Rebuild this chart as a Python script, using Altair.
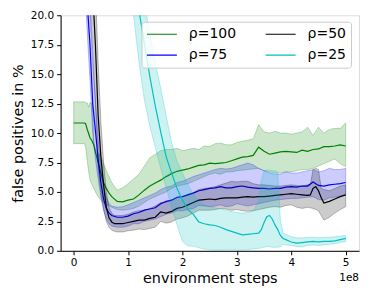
import altair as alt
import pandas as pd

# shared sampling grid for the later part of training (x in units of 1e8 steps)
tail = [round(v / 10, 2) for v in range(8, 51)]

# rho = 100 (green)
x100 = [0.0, 0.1, 0.2, 0.22, 0.25, 0.28, 0.3, 0.33, 0.35, 0.37, 0.4, 0.45, 0.5, 0.55, 0.6, 0.65, 0.7] + tail
m100 = [10.85, 10.85, 10.85, 10.8, 10.3, 9.9, 9.6, 9.4, 9.2, 9.0, 8.4, 7.5, 6.6, 5.8, 5.3, 4.9, 4.6,
        4.2, 4.15, 4.3, 4.4, 4.75, 5.15, 5.5, 5.75, 6.0, 6.3, 6.55, 6.75, 6.85, 6.95, 7.1, 7.25, 7.3, 7.45,
        7.4, 7.45, 7.5, 7.65, 7.8, 7.95, 8.0, 8.1, 8.8, 8.45, 8.2, 8.3, 8.4, 8.45, 8.4, 8.35, 8.55, 8.45,
        8.6, 8.65, 8.85, 8.85, 8.9, 9.0, 8.9]
lo100 = [9.1, 9.1, 9.1, 8.8, 7.6, 6.6, 6.0, 5.7, 5.5, 5.3, 5.0, 4.6, 4.3, 4.05, 3.9, 3.8, 3.7,
         3.5, 3.45, 3.5, 3.6, 3.8, 4.1, 4.4, 4.6, 4.8, 5.0, 5.3, 5.5, 5.6, 5.7, 5.9, 6.1, 6.3, 6.5,
         6.6, 6.5, 6.7, 6.7, 6.8, 6.85, 6.9, 6.95, 7.0, 6.8, 6.7, 6.6, 6.6, 6.7, 6.7, 6.8, 6.9, 6.9,
         7.0, 7.2, 7.4, 7.6, 7.8, 7.4, 7.15]
hi100 = [12.65, 12.65, 12.65, 12.6, 12.55, 12.2, 12.6, 12.5, 12.4, 9.0, 8.6, 8.3, 8.0, 7.4, 6.8, 6.3, 5.8,
         5.15, 5.35, 5.7, 6.1, 6.5, 7.2, 7.9, 8.2, 8.5, 8.6, 8.6, 8.7, 8.5, 8.6, 8.7, 8.6, 8.9, 8.85,
         9.1, 9.15, 9.0, 9.0, 9.2, 9.3, 9.4, 9.5, 10.7, 10.1, 10.0, 10.15, 10.0, 10.0, 9.9, 10.0, 10.1, 10.5,
         9.8, 10.5, 10.0, 10.3, 10.4, 10.4, 10.85]

# rho = 75 (blue)
x75 = [0.0, 0.1, 0.2, 0.25, 0.3, 0.35, 0.4, 0.45, 0.5, 0.55, 0.6, 0.65, 0.7] + tail
m75 = [45, 38, 26, 21, 17.5, 12.5, 10.2, 7.8, 5.8, 4.4, 3.6, 3.2, 3.0,
       2.85, 2.85, 2.95, 3.15, 3.25, 3.45, 3.55, 3.65, 4.0, 4.2, 4.3, 4.55, 4.6, 4.75, 4.9, 5.1, 5.2, 5.3,
       5.35, 5.45, 5.35, 5.35, 5.45, 5.5, 5.4, 5.35, 5.3, 5.3, 5.25, 5.3, 5.3, 5.4, 5.45, 5.4, 5.5, 5.5,
       5.85, 5.55, 5.5, 5.6, 5.65, 5.7, 5.8]
lo75 = [42, 35, 23, 18.5, 14.5, 10.0, 7.8, 6.1, 4.6, 3.4, 2.7, 2.3, 2.1,
        2.0, 2.0, 2.1, 2.3, 2.3, 2.5, 2.6, 2.7, 2.9, 3.1, 3.2, 3.4, 3.4, 3.5, 3.6, 3.85, 3.8, 3.75,
        3.8, 3.9, 3.75, 3.8, 4.0, 3.9, 3.8, 3.9, 4.0, 4.1, 4.2, 4.3, 4.35, 4.4, 4.45, 4.45, 4.5, 4.55,
        4.6, 4.35, 4.3, 4.5, 4.55, 4.65, 4.75]
hi75 = [48, 41, 29, 24, 20.5, 16, 12.8, 9.5, 7.0, 5.4, 4.5, 4.0, 3.8,
        3.7, 3.75, 3.9, 4.1, 4.3, 4.5, 4.7, 4.9, 5.2, 5.4, 5.5, 5.8, 5.9, 6.1, 6.3, 6.45, 6.6, 6.75,
        6.9, 7.0, 6.95, 7.0, 7.15, 7.3, 7.45, 7.3, 7.0, 6.8, 6.6, 6.5, 6.5, 6.7, 6.6, 6.6, 6.7, 6.8,
        6.9, 6.7, 6.8, 7.0, 6.9, 6.9, 7.0]

# rho = 50 (black)
x50 = ([0.0, 0.1, 0.2, 0.3, 0.35, 0.4, 0.45, 0.5, 0.55, 0.6, 0.65, 0.7, 0.75]
       + [t for t in tail if t <= 4.3] + [4.35, 4.4, 4.45, 4.5, 4.55, 4.6, 4.7, 4.8, 4.9, 5.0])
m50 = [50, 45, 36, 26, 22, 17.5, 11.5, 8.0, 5.6, 3.7, 2.8, 2.45, 2.3,
       2.3, 2.3, 2.4, 2.5, 2.6, 2.6, 2.75, 2.85, 3.3, 3.2, 3.35, 3.6, 3.7, 3.9, 4.1, 4.3, 4.35, 4.4,
       4.35, 4.45, 4.5, 4.5, 4.5, 4.55, 4.6, 4.55, 4.6, 4.6, 4.65, 4.7, 4.75, 4.8, 4.85, 4.8, 4.75, 4.7,
       4.75, 5.3, 5.45, 5.1, 4.5, 4.05, 4.2, 4.4, 4.6, 4.75]
lo50 = [45, 40, 31, 21, 17, 12.5, 7.0, 5.0, 3.6, 2.5, 2.0, 1.75, 1.65,
        1.6, 1.6, 1.7, 1.75, 1.85, 1.8, 1.9, 2.0, 2.5, 2.35, 2.45, 2.7, 2.8, 2.95, 3.2, 3.45, 3.45, 3.45,
        3.5, 3.6, 3.55, 3.45, 3.5, 3.4, 3.35, 3.4, 3.5, 3.6, 3.7, 3.75, 3.7, 3.85, 3.9, 3.7, 3.6, 3.7,
        3.65, 3.6, 3.5, 3.4, 3.0, 2.6, 2.85, 3.2, 3.5, 3.75]
hi50 = [55, 50, 41, 31, 27, 22.5, 16.0, 11.0, 7.6, 5.0, 3.7, 3.2, 3.0,
        3.0, 3.0, 3.1, 3.3, 3.4, 3.45, 3.6, 3.8, 4.1, 4.1, 4.3, 4.5, 4.6, 4.8, 4.95, 5.2, 5.3, 5.35,
        5.45, 5.6, 5.75, 5.9, 5.85, 5.9, 5.9, 5.7, 5.6, 5.6, 5.55, 5.5, 5.5, 5.55, 5.6, 5.55, 5.5, 5.6,
        5.6, 6.9, 7.0, 6.9, 5.3, 5.2, 5.1, 5.3, 5.5, 5.6]

# rho = 25 (cyan)
x25 = ([0.0, 0.5, 0.8] + [t for t in tail if 1.0 <= t <= 3.4]
       + [3.45, 3.5, 3.55, 3.6, 3.65, 3.7, 3.75, 3.8, 3.85, 3.9] + [t for t in tail if t >= 4.0])
m25 = [60, 45, 33, 26, 23, 20.4, 17.6, 14.8, 12.3, 10.1, 8.0, 6.6, 5.3, 4.3, 3.5, 3.1, 2.45, 2.3, 2.2,
       2.15, 2.0, 1.8, 1.65, 1.5, 1.35, 1.4, 1.45, 1.5, 1.8, 2.4, 2.9, 3.0, 2.7, 2.2, 1.8, 1.3, 1.05, 0.95,
       0.75, 0.65, 0.7, 0.75, 0.8, 0.75, 0.8, 0.8, 0.85, 0.95, 1.05]
lo25 = [55, 40, 29, 23.5, 20, 16, 12.8, 10.6, 8.8, 7.0, 5.4, 3.7, 2.2, 0.8, 0.4, 0.4, 0.25, 0.15, 0.1,
        0.05, 0.05, 0.1, 0.1, 0.05, 0.05, 0.1, 0.15, 0.2, 0.25, 0.3, 0.35, 0.35, 0.3, 0.3, 0.3, 0.35, 0.55, 0.5,
        0.45, 0.35, 0.35, 0.45, 0.5, 0.45, 0.5, 0.55, 0.6, 0.7, 0.8]
hi25 = [65, 50, 37, 30, 26, 23, 21, 18.5, 16, 13.8, 11.5, 9.2, 7.6, 6.6, 5.6, 4.8, 4.2, 3.9, 3.75,
        3.65, 3.55, 3.45, 3.35, 3.25, 3.2, 3.25, 3.4, 4.2, 6.0, 6.8, 6.85, 6.85, 6.8, 6.8, 6.7, 2.6, 1.5, 1.4,
        1.2, 1.1, 1.1, 1.15, 1.15, 1.1, 1.15, 1.15, 1.2, 1.25, 1.3]

series = [
    ("ρ=100", "#008000", x100, m100, lo100, hi100),
    ("ρ=75", "#0000ff", x75, m75, lo75, hi75),
    ("ρ=50", "#000000", x50, m50, lo50, hi50),
    ("ρ=25", "#00bfbf", x25, m25, lo25, hi25),
]

rows = []
for name, col, xs, ms, los, his in series:
    assert len(xs) == len(ms) == len(los) == len(his), (name, len(xs), len(ms), len(los), len(his))
    for xv, mv, lv, hv in zip(xs, ms, los, his):
        rows.append({"series": name, "x": xv, "mean": mv, "lo": lv, "hi": hv})
df = pd.DataFrame(rows)

W, H = 299, 236
FONT = "DejaVu Sans"
xscale = alt.Scale(domain=[-0.24, 5.245], nice=False, zero=False)
yscale = alt.Scale(domain=[0, 20], nice=False, zero=False)
legend_order = [s[0] for s in series]
legend_colors = [s[1] for s in series]

xaxis = alt.Axis(title="environment steps", values=[0, 1, 2, 3, 4, 5], format="d", grid=False,
                 tickSize=4, labelPadding=3, labelFontSize=10.5, titleFontSize=14.4,
                 titlePadding=3, titleFontWeight="normal", domainColor="black", tickColor="black",
                 labelColor="black", titleColor="black", labelFont=FONT, titleFont=FONT)
yaxis = alt.Axis(title="false positives in %", values=[0, 2.5, 5, 7.5, 10, 12.5, 15, 17.5, 20],
                 format=".1f", grid=False, tickSize=4, labelPadding=3, labelFontSize=10.5,
                 titleFontSize=14.4, titlePadding=5, titleFontWeight="normal", domainColor="black",
                 tickColor="black", labelColor="black", titleColor="black", labelFont=FONT, titleFont=FONT)

legend = alt.Legend(title=None, orient="none", legendX=81, legendY=6.5, columns=2,
                    symbolType="stroke", symbolSize=900, symbolStrokeWidth=1.2, clipHeight=16,
                    labelFontSize=14, labelFont=FONT, labelColor="black", labelOffset=11,
                    columnPadding=28, rowPadding=5, padding=4.5,
                    fillColor="rgba(255,255,255,0.8)", strokeColor="#cccccc", cornerRadius=3)

base = alt.Chart(df)
layers = []
for name, col, *_ in series:
    sub = base.transform_filter(alt.datum.series == name)
    area = sub.mark_area(clip=True, fill=col, fillOpacity=0.2, stroke=col, strokeOpacity=0.25,
                         strokeWidth=1).encode(
        x=alt.X("x:Q", scale=xscale, axis=xaxis),
        y=alt.Y("lo:Q", scale=yscale, axis=yaxis),
        y2="hi:Q",
    )
    line = sub.mark_line(clip=True, strokeWidth=1.2).encode(
        x=alt.X("x:Q", scale=xscale, axis=xaxis),
        y=alt.Y("mean:Q", scale=yscale, axis=yaxis),
        color=alt.Color("series:N", scale=alt.Scale(domain=legend_order, range=legend_colors),
                        legend=legend),
    )
    layers += [area, line]

offset = alt.Chart(pd.DataFrame({"t": ["1e8"]})).mark_text(
    align="right", baseline="top", fontSize=10.5, font=FONT, color="black"
).encode(x=alt.value(W), y=alt.value(H + 22), text="t:N")
layers.append(offset)

chart = alt.layer(*layers).properties(
    width=W, height=H,
    autosize=alt.AutoSizeParams(type="none"),
    padding={"left": 52.7, "top": 7, "right": 7, "bottom": 40},
).configure_view(stroke="black", strokeWidth=1).configure(font=FONT)

chart.save("out.html", embed_options={"renderer": "svg", "actions": False})
